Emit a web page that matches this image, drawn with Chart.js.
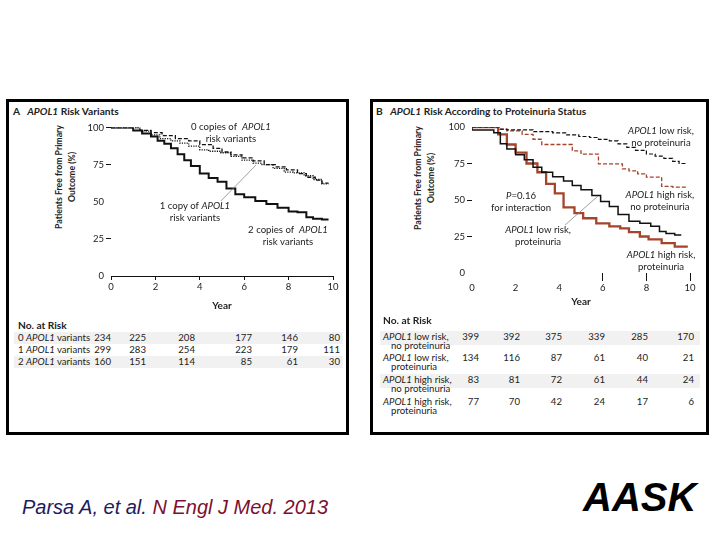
<!DOCTYPE html>
<html>
<head>
<meta charset="utf-8">
<script src="https://cdn.jsdelivr.net/npm/chart.js@4.4.1/dist/chart.umd.min.js"></script>
<style>
  body { margin: 0; background: #fff; }
  #page { position: relative; width: 720px; height: 540px; overflow: hidden; font-family: Lato, "Noto Sans", sans-serif; color: #222; }
  .panel { position: absolute; border: 3px solid #000; box-sizing: border-box; }
  .t { position: absolute; white-space: nowrap; line-height: 10px; transform: translateY(-50%); }
  .r { transform: translate(-100%, -50%); }
  .bold { font-weight: bold; font-size: 10.2px; }
  .ytitle { position: absolute; width: 130px; text-align: center; font-weight: bold; font-size: 8.7px; line-height: 12.5px;
            transform: translate(-50%, -50%) rotate(-90deg); white-space: nowrap; }
  .cell { font-size: 9.6px; }
  .band { position: absolute; background: #f1f1f1; }
  canvas { position: absolute; }
  .cite { position: absolute; left: 22px; top: 507px; transform: translateY(-50%); font-family: "Liberation Sans", Arial, sans-serif;
          font-style: italic; font-size: 20px; white-space: nowrap; }
  .aask { position: absolute; left: 583px; top: 497px; transform: translateY(-50%); font-family: "Liberation Sans", Arial, sans-serif;
          font-style: italic; font-weight: bold; font-size: 40px; color: #000; }
</style>
</head>
<body>
<div id="page">
  <div class="panel" style="left:6px;top:99px;width:343px;height:336px"></div>
  <div class="panel" style="left:370px;top:99px;width:339px;height:336px"></div>

  <div class="t bold" style="left:13px;top:111px">A&nbsp;&nbsp;&nbsp;<i>APOL1</i> Risk Variants</div>
  <div class="t bold" style="left:376px;top:111px">B&nbsp;&nbsp;&nbsp;<i>APOL1</i> Risk According to Proteinuria Status</div>

  <div class="ytitle" style="left:65px;top:177px">Patients Free from Primary<br>Outcome (%)</div>
  <div class="ytitle" style="left:424px;top:178px">Patients Free from Primary<br>Outcome (%)</div>

  <div id="tableA"></div>
  <div id="tableB"></div>

  <canvas id="chartA" width="305" height="201" style="left:40px;top:115px"></canvas>
  <canvas id="chartB" width="302" height="200" style="left:400px;top:115px"></canvas>

  <div class="t bold" style="left:18px;top:325px">No. at Risk</div>
  <div class="t bold" style="left:383px;top:320px">No. at Risk</div>

  <div class="cite"><span style="color:#1c1c5e">Parsa A, et al.</span> <span style="color:#7c1030">N Engl J Med. 2013</span></div>
  <div class="aask">AASK</div>
</div>

<script>
// Panel A: APOL1 risk variants (years / % free from primary outcome)
const yearsA0 = [0, 1.3, 1.8, 2.3, 2.9, 3.5, 4.0, 4.6, 5.0, 5.4, 5.9, 6.4, 6.9, 7.4, 7.9, 8.4, 8.8, 9.2, 9.5, 9.8];
const survA0  = [100, 100, 98, 96.5, 94.5, 92.5, 91, 88.5, 86, 83.5, 81.5, 79.5, 77.5, 75, 73.5, 71.5, 69, 66.5, 64.5, 62.5];
const yearsA1 = [0, 1.3, 1.8, 2.2, 2.7, 3.1, 3.5, 4.0, 4.4, 4.9, 5.4, 5.9, 6.4, 6.8, 7.3, 7.8, 8.2, 8.7, 9.1, 9.5, 9.8];
const survA1  = [100, 100, 97.5, 95, 92.5, 91, 89.5, 87.5, 85, 84, 83, 80.5, 78, 76, 75, 72.5, 70, 69.5, 67.5, 65, 62];
const yearsA2 = [0, 1.0, 1.4, 1.8, 2.1, 2.4, 2.7, 3.0, 3.3, 3.6, 4.0, 4.4, 4.8, 5.2, 5.6, 6.0, 6.5, 7.0, 7.5, 8.0, 8.4, 8.8, 9.1, 9.5, 9.8];
const survA2  = [100, 100, 98, 96, 94, 91, 89, 86, 82, 78, 74, 69, 66, 63.5, 59, 55, 53, 50.5, 48.5, 46, 43.5, 43, 39.5, 38.5, 38];

// Panel B: APOL1 risk by proteinuria status
const yearsLowNo  = [0, 1.3, 1.6, 2.8, 3.7, 4.3, 4.9, 5.4, 5.8, 6.3, 6.7, 7.1, 7.5, 8.0, 8.4, 8.8, 9.2, 9.5, 9.8];
const survLowNo   = [100, 100, 98.5, 98, 96.8, 96, 94.6, 93.5, 92.8, 91.5, 90.5, 88.5, 86, 84, 81.5, 80, 78.5, 76.5, 75];
const yearsHighNo = [0, 1.2, 1.6, 2.3, 2.8, 3.2, 3.7, 4.6, 5.0, 5.8, 6.2, 6.9, 7.2, 7.6, 8.0, 8.7, 9.2, 9.9];
const survHighNo  = [100, 100, 98.4, 97.3, 95, 91.6, 88, 88, 83.7, 81.4, 74.7, 74.7, 71.3, 70, 67.9, 65.6, 59.3, 58.8];
const yearsLowPro = [0, 1.0, 1.3, 1.6, 2.0, 2.4, 2.8, 3.2, 3.7, 4.2, 4.6, 5.0, 5.5, 5.9, 6.3, 6.7, 7.2, 7.7, 8.2, 8.6, 8.9, 9.3, 9.6];
const survLowPro  = [100, 98, 96, 88.5, 85, 81, 77.5, 72.5, 69, 66, 63, 60, 57, 53, 49, 45.5, 40, 35.5, 34, 32, 28.5, 27, 26];
const yearsHighPro = [0, 1.2, 1.6, 2.0, 2.5, 3.0, 3.4, 3.8, 4.2, 4.7, 5.1, 5.7, 6.3, 6.8, 7.2, 7.7, 8.1, 8.7, 9.3, 9.9];
const survHighPro  = [100, 100, 95, 88, 82.5, 75, 69, 61, 54.5, 45, 41, 37.5, 34, 32, 30.5, 28, 25, 23, 20.5, 18];

// numbers at risk at years 0,2,4,6,8,10
const riskA0 = [234, 225, 208, 177, 146, 80];
const riskA1 = [299, 283, 254, 223, 179, 111];
const riskA2 = [160, 151, 114, 85, 61, 30];
const riskLowNo   = [399, 392, 375, 339, 285, 170];
const riskLowPro  = [134, 116, 87, 61, 40, 21];
const riskHighNo  = [83, 81, 72, 61, 44, 24];
const riskHighPro = [77, 70, 42, 24, 17, 6];

const brown = '#a5432c';
Chart.defaults.font.family = 'Lato, "Noto Sans", sans-serif';
Chart.defaults.color = '#222';

const pts = (xs, ys) => xs.map((x, i) => ({x: x, y: ys[i]}));

// draws the curve labels and leader lines in data coordinates
const curveLabels = {
    id: 'curveLabels',
    afterDatasetsDraw(chart, args, opts) {
        const {ctx, scales: {x, y}} = chart;
        ctx.save();
        (opts.leaders || []).forEach(l => {
            ctx.strokeStyle = '#888';
            ctx.lineWidth = 0.8;
            ctx.beginPath();
            ctx.moveTo(x.getPixelForValue(l[0]), y.getPixelForValue(l[1]));
            ctx.lineTo(x.getPixelForValue(l[2]), y.getPixelForValue(l[3]));
            ctx.stroke();
        });
        ctx.fillStyle = '#222';
        ctx.textBaseline = 'middle';
        ctx.textAlign = 'left';
        (opts.items || []).forEach(item => {
            item.lines.forEach((line, i) => {
                // text between * is italic
                const parts = line.split('*').map((s, j) => ({s: s, font: (j % 2 ? 'italic ' : '') + '9.6px Lato'}));
                let w = 0;
                parts.forEach(p => { ctx.font = p.font; w += ctx.measureText(p.s).width; });
                let px = x.getPixelForValue(item.x) - w / 2;
                const py = y.getPixelForValue(item.y) + i * 11.8;
                parts.forEach(p => { ctx.font = p.font; ctx.fillText(p.s, px, py); px += ctx.measureText(p.s).width; });
            });
        });
        ctx.restore();
    }
};

function makeChart(id, datasets, o) {
    return new Chart(document.getElementById(id), {
        type: 'line',
        data: {datasets: datasets},
        plugins: [curveLabels],
        options: {
            responsive: false,
            animation: false,
            layout: {padding: {top: o.padTop, right: 12, left: 0, bottom: 0}},
            elements: {point: {radius: 0}, line: {tension: 0}},
            plugins: {legend: {display: false}, tooltip: {enabled: false}, curveLabels: o.labels},
            scales: {
                x: {
                    type: 'linear', min: 0, max: 10,
                    afterFit: s => { s.height = o.xHeight; },
                    border: {display: o.xBorder, color: '#111', width: 1},
                    grid: {drawOnChartArea: false, tickLength: o.xTickLen, tickColor: o.xTickColor, tickWidth: 1},
                    ticks: {stepSize: 2, padding: 1, font: {size: 9.5}, maxRotation: 0},
                    title: {display: true, text: 'Year', font: {size: 10, weight: 'bold'}, padding: {top: 0, bottom: o.yearPad}}
                },
                y: {
                    min: 0, max: 100,
                    afterFit: s => { s.width = o.yWidth; },
                    border: {display: false},
                    grid: {drawOnChartArea: false, tickLength: 5, tickColor: o.yTickColor, tickWidth: 1},
                    ticks: {stepSize: 25, padding: 2, font: {size: 9.5}}
                }
            }
        }
    });
}

makeChart('chartA', [
    {data: pts(yearsA0, survA0), borderColor: '#111', borderWidth: 1.3, borderDash: [4, 2], stepped: 'after'},
    {data: pts(yearsA1, survA1), borderColor: '#111', borderWidth: 1.3, borderDash: [1.2, 1.2], stepped: 'after'},
    {data: pts(yearsA2, survA2), borderColor: '#111', borderWidth: 2, stepped: 'after'}
], {
    padTop: 12.5, xHeight: 40, yWidth: 71, xBorder: true, xTickLen: 4, yearPad: 4,
    xTickColor: '#111',
    yTickColor: c => (c.tick && (c.tick.value === 50 || c.tick.value === 0)) ? 'rgba(0,0,0,0)' : '#111',
    labels: {
        items: [
            {x: 5.4, y: 100.3, lines: ['0 copies of  *APOL1*', 'risk variants']},
            {x: 3.78, y: 47.1, lines: ['1 copy of *APOL1*', 'risk variants']},
            {x: 7.97, y: 31, lines: ['2 copies of  *APOL1*', 'risk variants']}
        ],
        leaders: [[4.95, 50.5, 6.53, 74.7]]
    }
});

makeChart('chartB', [
    {data: pts(yearsLowNo, survLowNo), borderColor: '#111', borderWidth: 1.2, borderDash: [4, 2], stepped: 'after'},
    {data: pts(yearsHighNo, survHighNo), borderColor: brown, borderWidth: 1.3, borderDash: [4, 2], stepped: 'after'},
    {data: pts(yearsLowPro, survLowPro), borderColor: '#111', borderWidth: 1.5, stepped: 'after'},
    {data: pts(yearsHighPro, survHighPro), borderColor: brown, borderWidth: 2.3, stepped: 'after'}
], {
    padTop: 12, xHeight: 42, yWidth: 72, xBorder: false, xTickLen: 8, yearPad: 7,
    xTickColor: c => (c.tick && c.tick.value >= 6) ? '#111' : 'rgba(0,0,0,0)',
    yTickColor: c => (c.tick && (c.tick.value === 100 || c.tick.value === 0)) ? 'rgba(0,0,0,0)' : '#111',
    labels: {
        items: [
            {x: 8.67, y: 97.3, lines: ['*APOL1* low risk,', 'no proteinuria']},
            {x: 8.62, y: 53.4, lines: ['*APOL1* high risk,', 'no proteinuria']},
            {x: 2.25, y: 52.7, lines: ['*P*=0.16', 'for interaction']},
            {x: 3.03, y: 29.5, lines: ['*APOL1* low risk,', 'proteinuria']},
            {x: 8.67, y: 12.3, lines: ['*APOL1* high risk,', 'proteinuria']}
        ],
        leaders: [[4.27, 32.9, 5.78, 52.7]]
    }
});

// risk tables, light band behind every other row
function riskTable(elId, rows, colRight, labelX, rowY, lineGap, band) {
    const el = document.getElementById(elId);
    rows.forEach((row, r) => {
        if (r % 2 === 0) {
            el.innerHTML += `<div class="band" style="left:${band[0]}px;width:${band[1] - band[0]}px;top:${rowY[r] - 6}px;height:${band[2]}px"></div>`;
        }
        row.label.forEach((txt, k) => {
            el.innerHTML += `<div class="t cell" style="left:${labelX + (k ? 8 : 0)}px;top:${rowY[r] + k * lineGap}px">${txt}</div>`;
        });
        row.values.forEach((v, c) => {
            el.innerHTML += `<div class="t r cell" style="left:${colRight[c]}px;top:${rowY[r]}px">${v}</div>`;
        });
    });
}

riskTable('tableA', [
    {label: ['0 <i>APOL1</i> variants'], values: riskA0},
    {label: ['1 <i>APOL1</i> variants'], values: riskA1},
    {label: ['2 <i>APOL1</i> variants'], values: riskA2}
], [111, 146, 195, 252, 298, 340], 18, [338, 350, 362], 0, [14, 343, 12]);

riskTable('tableB', [
    {label: ['<i>APOL1</i> low risk,', 'no proteinuria'], values: riskLowNo},
    {label: ['<i>APOL1</i> low risk,', 'proteinuria'], values: riskLowPro},
    {label: ['<i>APOL1</i> high risk,', 'no proteinuria'], values: riskHighNo},
    {label: ['<i>APOL1</i> high risk,', 'proteinuria'], values: riskHighPro}
], [479, 520, 562, 605, 648, 694], 383, [337, 358, 380, 402], 8.5, [380, 700, 14]);
</script>
</body>
</html>
